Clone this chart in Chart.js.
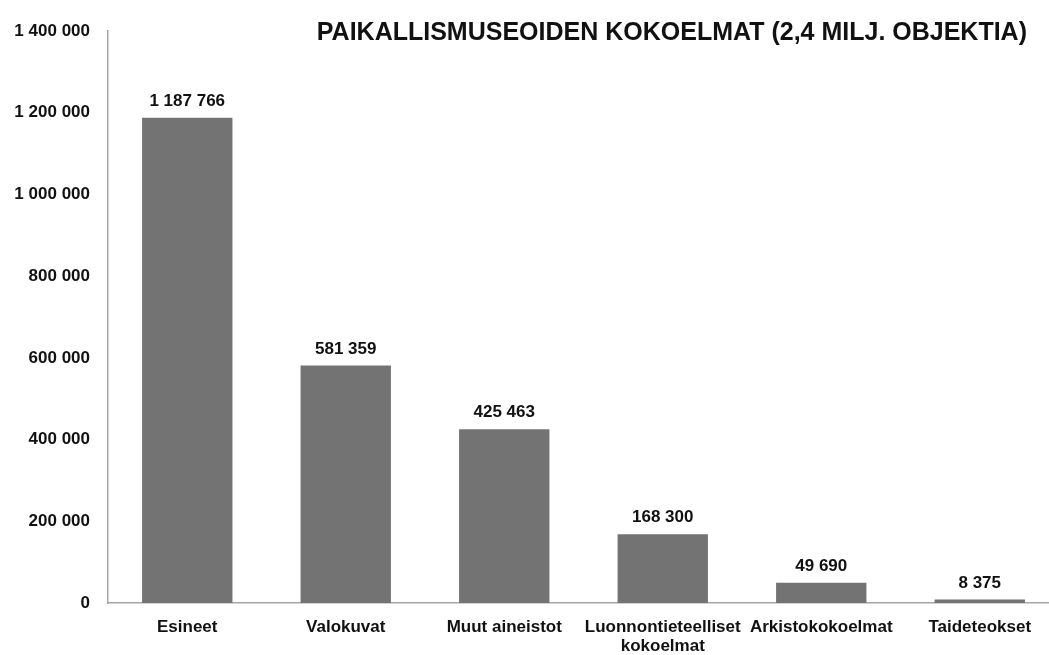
<!DOCTYPE html>
<html>
<head>
<meta charset="utf-8">
<script src="https://cdn.jsdelivr.net/npm/chart.js@4/dist/chart.umd.min.js"></script>
<style>
  html, body { margin: 0; padding: 0; background: #fff; overflow: hidden; }
  #wrap { width: 1060px; height: 655px; }
</style>
</head>
<body>
<div id="wrap"><canvas id="myChart"></canvas></div>
<script>
// 데이터
const categories = ['Esineet', 'Valokuvat', 'Muut aineistot', ['Luonnontieteelliset', 'kokoelmat'], 'Arkistokokoelmat', 'Taideteokset'];
const values = [1187766, 581359, 425463, 168300, 49690, 8375];
const yTicks = [0, 200000, 400000, 600000, 800000, 1000000, 1200000, 1400000];
const chartTitle = 'PAIKALLISMUSEOIDEN KOKOELMAT (2,4 MILJ. OBJEKTIA)';

const fontFamily = '"Liberation Sans", Arial, Helvetica, sans-serif';

// 천 단위 공백 구분
function fmt(v) {
  return String(v).replace(/\B(?=(\d{3})+(?!\d))/g, ' ');
}

// 막대 위 값 표시
const valueLabels = {
  id: 'valueLabels',
  afterDatasetsDraw(chart) {
    const ctx = chart.ctx;
    const meta = chart.getDatasetMeta(0);
    ctx.save();
    ctx.font = 'bold 17px ' + fontFamily;
    ctx.fillStyle = '#111';
    ctx.textAlign = 'center';
    ctx.textBaseline = 'bottom';
    meta.data.forEach((bar, i) => {
      ctx.fillText(fmt(values[i]), bar.x, bar.y - 8);
    });
    ctx.restore();
  }
};

// 제목 (오른쪽 위)
const titlePlugin = {
  id: 'titlePlugin',
  afterDraw(chart) {
    const ctx = chart.ctx;
    ctx.save();
    ctx.font = 'bold 25px ' + fontFamily;
    ctx.fillStyle = '#111';
    ctx.textAlign = 'right';
    ctx.textBaseline = 'alphabetic';
    ctx.fillText(chartTitle, 1027, 40);
    ctx.restore();
  }
};

const ctx = document.getElementById('myChart').getContext('2d');
const myChart = new Chart(ctx, {
  type: 'bar',
  data: {
    labels: categories,
    datasets: [{
      data: values,
      backgroundColor: '#737373',
      borderWidth: 0,
      categoryPercentage: 1,
      barPercentage: 0.57
    }]
  },
  options: {
    responsive: true,
    maintainAspectRatio: false,
    animation: false,
    layout: { padding: { top: 31, left: 6, right: 1, bottom: 0 } },
    plugins: {
      legend: { display: false },
      tooltip: { enabled: false }
    },
    scales: {
      x: {
        grid: { display: false, drawTicks: false },
        border: { display: true, color: '#a6a6a6', width: 1.5 },
        ticks: {
          color: '#111',
          padding: 15,
          maxRotation: 0,
          autoSkip: false,
          font: { family: fontFamily, size: 17, weight: 'bold', lineHeight: 1.1 }
        },
        afterFit(scale) { scale.height = 52; }
      },
      y: {
        min: 0,
        max: 1400000,
        afterBuildTicks(scale) { scale.ticks = yTicks.map(v => ({ value: v })); },
        grid: { display: false, drawTicks: false },
        border: { display: true, color: '#a6a6a6', width: 1.5 },
        ticks: {
          color: '#111',
          padding: 18,
          font: { family: fontFamily, size: 17, weight: 'bold' },
          callback: v => fmt(v)
        },
        afterFit(scale) { scale.width = 102; }
      }
    }
  },
  plugins: [valueLabels, titlePlugin]
});
</script>
</body>
</html>
